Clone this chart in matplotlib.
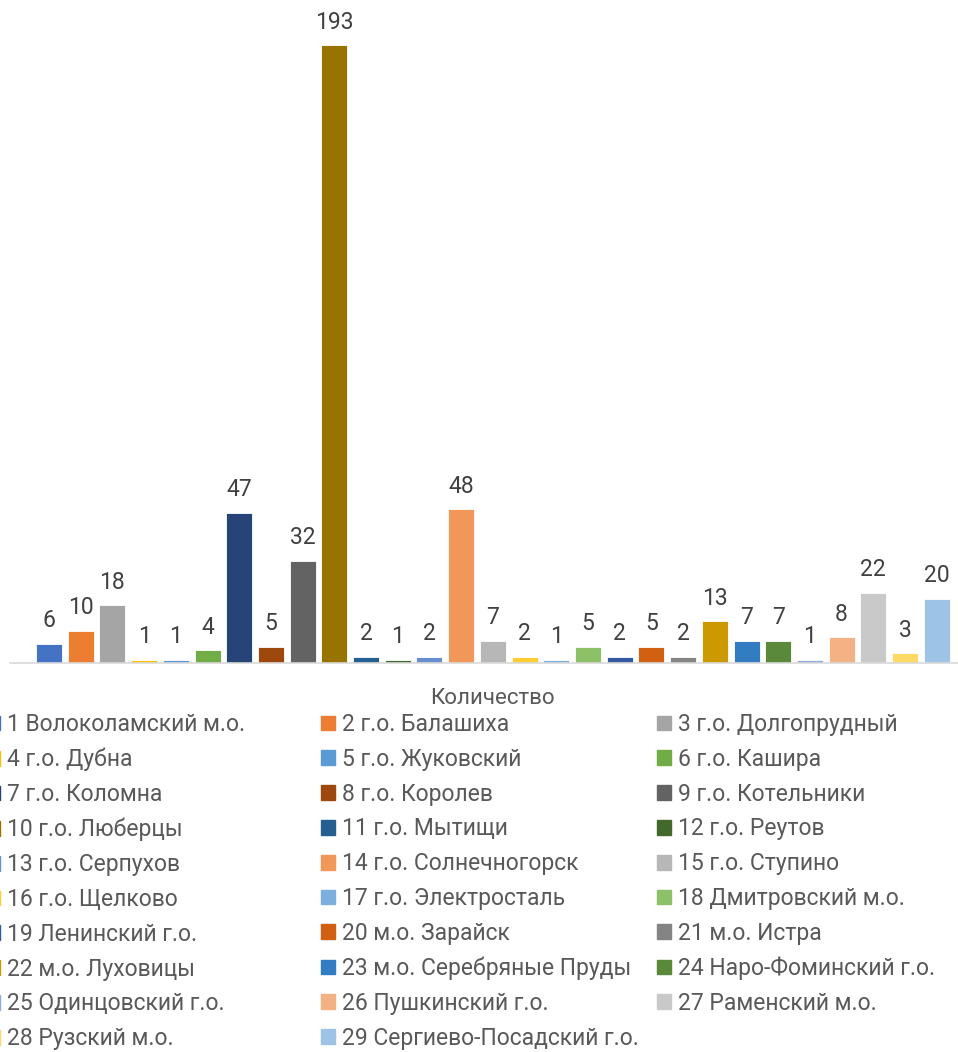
import matplotlib
matplotlib.use('Agg')
from matplotlib import pyplot as plt
from matplotlib import patches as mpatches

plt.rcParams['font.family'] = ['Roboto', 'DejaVu Sans']

# one category, 29 series (Excel clustered column chart)
category = 'Количество'
names = ['1 Волоколамский м.о.', '2 г.о. Балашиха', '3 г.о. Долгопрудный',
         '4 г.о. Дубна', '5 г.о. Жуковский', '6 г.о. Кашира',
         '7 г.о. Коломна', '8 г.о. Королев', '9 г.о. Котельники',
         '10 г.о. Люберцы', '11 г.о. Мытищи', '12 г.о. Реутов',
         '13 г.о. Серпухов', '14 г.о. Солнечногорск', '15 г.о. Ступино',
         '16 г.о. Щелково', '17 г.о. Электросталь', '18 Дмитровский м.о.',
         '19 Ленинский г.о.', '20 м.о. Зарайск', '21 м.о. Истра',
         '22 м.о. Луховицы', '23 м.о. Серебряные Пруды', '24 Наро-Фоминский г.о.',
         '25 Одинцовский г.о.', '26 Пушкинский г.о.', '27 Раменский м.о.',
         '28 Рузский м.о.', '29 Сергиево-Посадский г.о.']
values = [6, 10, 18, 1, 1, 4, 47, 5, 32, 193, 2, 1, 2, 48, 7, 2, 1, 5,
          2, 5, 2, 13, 7, 7, 1, 8, 22, 3, 20]
colors = ['#4472C4', '#ED7D31', '#A5A5A5', '#FFC000', '#5B9BD5', '#70AD47',
          '#264478', '#9E480E', '#636363', '#997300', '#255E91', '#43682B',
          '#698ED0', '#F1975A', '#B7B7B7', '#FFCD33', '#7CAFDD', '#8CC168',
          '#335AA1', '#D26012', '#848484', '#CC9A00', '#327DC2', '#5A8A39',
          '#8FAADC', '#F4B183', '#C9C9C9', '#FFD966', '#9DC3E6']

W, H = 958, 1052
fig = plt.figure(figsize=(W / 100, H / 100), dpi=100)
# axes box in pixels: left 10, baseline at 663, top at 23
ax = fig.add_axes([10 / W, (H - 663) / H, 948 / W, 640 / H])

xs = list(range(len(values)))
bars = ax.bar(xs, values, width=0.82, color=colors, edgecolor='white', linewidth=0.6)
for x, v in zip(xs, values):
    ax.annotate(str(v), (x, v), xytext=(0, 12), textcoords='offset points',
                ha='center', va='baseline', fontsize=16.5, color='#404040',
                annotation_clip=False)

ax.set_xlim(-1.23, 28.67)
ax.set_ylim(0, 200)
for s in ['top', 'right', 'left']:
    ax.spines[s].set_visible(False)
ax.spines['bottom'].set_color('#D9D9D9')
ax.spines['bottom'].set_linewidth(1.2)
ax.set_yticks([])
ax.set_xticks([14], [category])
ax.tick_params(axis='x', length=0, pad=18, labelsize=16, labelcolor='#595959')

# legend laid out row by row in three equal columns, like Excel
handles = [mpatches.Patch(color=c, label=n) for c, n in zip(colors, names)]
col_x = [-14, 321, 657]
for k in range(3):
    fig.legend(handles=handles[k::3], loc='upper left',
               bbox_to_anchor=(col_x[k] / W, 1 - 713 / H),
               frameon=False, fontsize=16.5, labelcolor='#595959',
               borderpad=0, borderaxespad=0, handlelength=0.62, handleheight=0.62,
               handletextpad=0.3, labelspacing=0.515)

fig.savefig('out.png', dpi=100)
